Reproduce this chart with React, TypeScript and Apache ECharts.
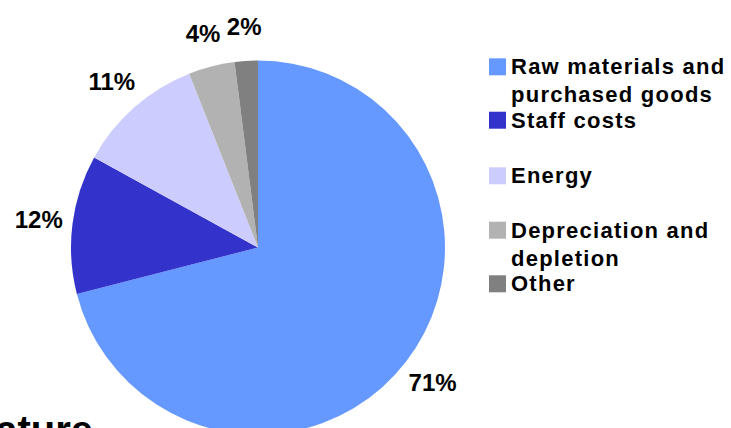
import React, { useEffect, useRef } from "react";
import * as echarts from "echarts";

const categories: string[] = [
  "Raw materials and purchased goods",
  "Staff costs",
  "Energy",
  "Depreciation and depletion",
  "Other",
];
const legendLabels: string[] = [
  "\u00a0\nRaw materials and\npurchased goods",
  "Staff costs",
  "Energy",
  "\u00a0\nDepreciation and\ndepletion",
  "Other",
];
const shares: number[] = [71, 12, 11, 4, 2];
const colors: string[] = ["#6699FF", "#3333CC", "#CCCCFF", "#B2B2B2", "#808080"];
const titleText = "Expenses by nature";

const FONT = 'Arial, "Liberation Sans", Helvetica, sans-serif';

export default function App() {
  const ref = useRef<HTMLDivElement>(null);

  useEffect(() => {
    if (!ref.current) return;
    const chart = echarts.init(ref.current, undefined, { renderer: "svg" });

    const data = categories.map((name, i) => ({
      name,
      value: shares[i],
      itemStyle: { color: colors[i] },
    }));
    const labelData = categories.map((name, i) => ({
      name,
      value: shares[i],
    }));

    const legendTops = [24.8, 106.2, 161.8, 188.2, 269.8];
    const legends = categories.map((name, i) => ({
      orient: "vertical",
      left: 489,
      top: legendTops[i],
      padding: 0,
      itemWidth: 17,
      itemHeight: 17,
      icon: "rect",
      selectedMode: false,
      data: [name],
      formatter: () => legendLabels[i],
      textStyle: {
        fontFamily: FONT,
        fontSize: 22,
        fontWeight: "bold",
        color: "#000",
        lineHeight: 28,
      },
    }));

    chart.setOption({
      animation: false,
      backgroundColor: "#fff",
      graphic: [
        {
          type: "text",
          x: 93,
          y: 430,
          z: -1,
          silent: true,
          style: {
            text: titleText,
            fontFamily: FONT,
            fontSize: 40,
            fontWeight: "bold",
            fill: "#000",
            textAlign: "right",
            textVerticalAlign: "middle",
          },
        },
      ],
      legend: legends,
      series: [
        {
          type: "pie",
          name: "main",
          center: [258, 247.5],
          radius: [0, 187],
          startAngle: 90,
          clockwise: true,
          silent: true,
          z: 2,
          label: { show: false },
          labelLine: { show: false },
          emphasis: { disabled: true },
          data,
        },
        {
          type: "pie",
          name: "labels",
          center: [258, 247.5],
          radius: [198, 238],
          startAngle: 90,
          clockwise: true,
          silent: true,
          z: 3,
          itemStyle: { color: "rgba(0,0,0,0)" },
          label: {
            show: true,
            position: "inside",
            formatter: "{c}%",
            fontFamily: FONT,
            fontSize: 24,
            fontWeight: "bold",
            color: "#000",
          },
          labelLine: { show: false },
          emphasis: { disabled: true },
          data: labelData,
        },
      ],
    });

    return () => chart.dispose();
  }, []);

  return (
    <>
      <style>{`.cchart text[text-anchor="start"], .cchart text:not([text-anchor]) { letter-spacing: 1.25px; }`}</style>
      <div
        ref={ref}
        className="cchart"
        style={{ position: "fixed", left: 0, top: 0, width: 731, height: 428 }}
      />
    </>
  );
}
